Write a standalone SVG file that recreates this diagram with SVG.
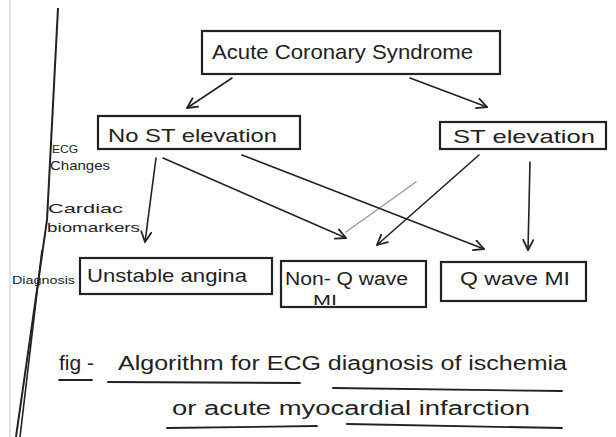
<svg xmlns="http://www.w3.org/2000/svg" width="616" height="437" viewBox="0 0 616 437">
<defs>
<marker id="ah" viewBox="0 0 12 12" refX="11" refY="6" markerWidth="12" markerHeight="12" markerUnits="userSpaceOnUse" orient="auto">
<path d="M1,1 L11,6 L1,11" fill="none" stroke="#222" stroke-width="1.8" stroke-linecap="round" stroke-linejoin="round"/>
</marker>
</defs>
<style>
.box{fill:none;stroke:#222;stroke-width:2.2}
.t{font-family:"Liberation Sans","DejaVu Sans",sans-serif;fill:#222}
.c{fill:none;stroke:#222;stroke-width:1.6;stroke-linecap:round}
.u{fill:none;stroke:#222;stroke-width:1.8;stroke-linecap:round}
</style>
<rect width="616" height="437" fill="#fff"/>
<line x1="10" y1="0" x2="10" y2="437" stroke="#e2e2e2" stroke-width="2"/>
<g id="margin">
<path d="M58,8 L47,220 L16,437" fill="none" stroke="#222" stroke-width="2"/>
<path d="M42,250 L20,437" fill="none" stroke="#222" stroke-width="1.6"/>
</g>
<g id="side-labels">
<text class="t" x="52" y="153" font-size="11" textLength="26" lengthAdjust="spacingAndGlyphs">ECG</text>
<text class="t" x="50" y="170" font-size="13" textLength="60" lengthAdjust="spacingAndGlyphs">Changes</text>
<text class="t" x="48" y="213" font-size="13" textLength="75" lengthAdjust="spacingAndGlyphs">Cardiac</text>
<text class="t" x="47" y="232" font-size="13" textLength="93" lengthAdjust="spacingAndGlyphs">biomarkers</text>
<text class="t" x="12" y="284" font-size="11" textLength="63" lengthAdjust="spacingAndGlyphs">Diagnosis</text>
</g>
<g id="acs">
<rect class="box" x="202" y="31" width="298" height="43"/>
<text class="t" x="212" y="59" font-size="21" textLength="261" lengthAdjust="spacingAndGlyphs">Acute Coronary Syndrome</text>
</g>
<g id="no-st">
<rect class="box" x="98" y="116" width="202" height="33"/>
<text class="t" x="108" y="142" font-size="19" textLength="169" lengthAdjust="spacingAndGlyphs">No ST elevation</text>
</g>
<g id="st">
<rect class="box" x="440" y="122" width="166" height="27"/>
<text class="t" x="453" y="143" font-size="19" textLength="142" lengthAdjust="spacingAndGlyphs">ST elevation</text>
</g>
<g id="unstable">
<rect class="box" x="80" y="258" width="192" height="36"/>
<text class="t" x="87" y="282" font-size="19" textLength="160" lengthAdjust="spacingAndGlyphs">Unstable angina</text>
</g>
<g id="nonq">
<rect class="box" x="281" y="261" width="145" height="46"/>
<text class="t" x="285" y="285" font-size="18" textLength="123" lengthAdjust="spacingAndGlyphs">Non- Q wave</text>
<text class="t" x="313" y="305" font-size="15" textLength="24" lengthAdjust="spacingAndGlyphs">MI</text>
</g>
<g id="qwave">
<rect class="box" x="441" y="262" width="145" height="39"/>
<text class="t" x="460" y="285" font-size="18" textLength="110" lengthAdjust="spacingAndGlyphs">Q wave MI</text>
</g>
<g id="connectors">
<line class="c" x1="232" y1="78" x2="187" y2="108" marker-end="url(#ah)"/>
<line class="c" x1="410" y1="78" x2="487" y2="107" marker-end="url(#ah)"/>
<line class="c" x1="156" y1="158" x2="145" y2="242" marker-end="url(#ah)"/>
<line class="c" x1="163" y1="158" x2="346" y2="238" marker-end="url(#ah)"/>
<line x1="416" y1="182" x2="346" y2="232" stroke="#9a9a9a" stroke-width="1.4" stroke-linecap="round"/>
<line class="c" x1="479" y1="155" x2="377" y2="245" marker-end="url(#ah)"/>
<line class="c" x1="242" y1="155" x2="484" y2="249" marker-end="url(#ah)"/>
<line class="c" x1="530" y1="162" x2="528" y2="250" marker-end="url(#ah)"/>
</g>
<g id="caption">
<text class="t" x="59" y="370" font-size="20" textLength="35" lengthAdjust="spacingAndGlyphs">fig -</text>
<text class="t" x="118" y="370" font-size="20" textLength="449" lengthAdjust="spacingAndGlyphs">Algorithm for ECG diagnosis of ischemia</text>
<text class="t" x="172" y="415" font-size="20" textLength="358" lengthAdjust="spacingAndGlyphs">or acute myocardial infarction</text>
<line class="u" x1="59" y1="380" x2="92" y2="380"/>
<line class="u" x1="108" y1="382" x2="300" y2="383"/>
<line class="u" x1="333" y1="388" x2="562" y2="391"/>
<line class="u" x1="167" y1="428" x2="317" y2="426"/>
<line class="u" x1="347" y1="424" x2="562" y2="428"/>
</g>
</svg>
